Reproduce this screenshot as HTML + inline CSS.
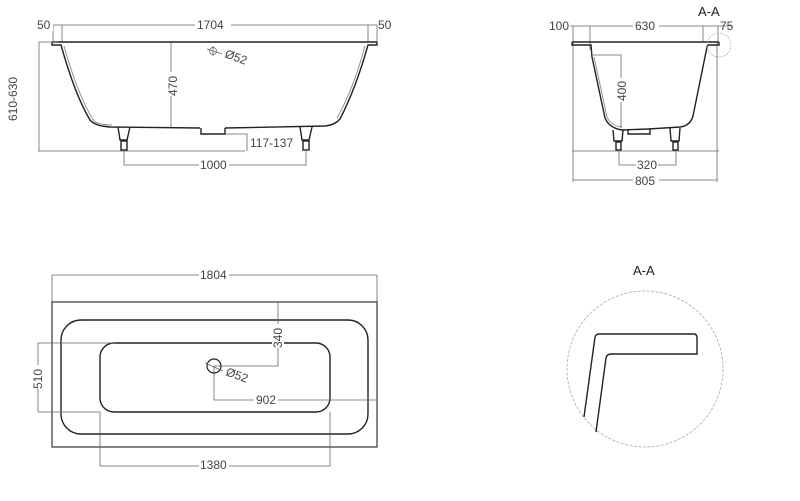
<!DOCTYPE html>
<html><head><meta charset="utf-8"><style>
html,body{margin:0;padding:0;background:#fff;width:800px;height:501px;overflow:hidden}
svg{display:block}
text{font-family:"Liberation Sans",sans-serif;font-size:12px;fill:#444}
.d{stroke:#666;stroke-width:0.8;fill:none}
.t{stroke:#222;stroke-width:1.4;fill:none}
.g{stroke:#888;stroke-width:0.9;fill:none}
</style></head><body>
<svg width="800" height="501" viewBox="0 0 800 501" xmlns="http://www.w3.org/2000/svg">
<!-- FRONT VIEW -->
<path class="d" d="M50 25H377M53 25V42M62 25V42M368 25V42M377 25V42"/>
<rect x="39" y="17" width="14" height="14" fill="#fff"/>
<text x="37" y="29">50</text>
<rect x="195" y="17" width="36" height="14" fill="#fff"/>
<text x="197" y="29">1704</text>
<text x="378" y="29">50</text>
<path class="t" d="M52 42H377"/>
<path class="t" d="M52 42V45H61Q75 95 90 120Q95 126 110 127L200 128M225 128L325 126Q335 125 340 119Q356 88 368 45H377V42"/>
<path class="g" d="M64 46Q78 96 94 121Q100 125 112 125"/>
<path class="g" d="M365 46Q353 90 337 118"/>
<path class="t" d="M201 128V134H225V128"/>
<path class="d" d="M39 42V151M39 42H58M38 151H245"/>
<rect x="7" y="70" width="14" height="50" fill="#fff"/>
<text transform="translate(17,121) rotate(-90)">610-630</text>
<path class="d" d="M171 42V127"/>
<rect x="166" y="72" width="12" height="24" fill="#fff"/>
<text transform="translate(177,96) rotate(-90)">470</text>
<circle cx="213" cy="51" r="3.5" class="d"/><path class="d" d="M207 49L222 54M213 46V56"/>
<text transform="translate(224,57) rotate(20)">Ø52</text>
<path class="t" d="M118 127L120 140H127L130 127"/><rect x="121" y="141" width="6" height="9" class="t" stroke-width="1"/>
<path class="t" d="M300 127L302 140H309L312 127"/><rect x="303" y="141" width="6" height="9" class="t" stroke-width="1"/>
<path class="d" d="M225 134H247V151M124 150V165H306V150"/>
<text x="250" y="147">117-137</text>
<rect x="199" y="158" width="30" height="14" fill="#fff"/>
<text x="200" y="169">1000</text>
<!-- SIDE VIEW -->
<path class="d" d="M570 26H731M573 26V42M590 26V50M703 26V42M718 26V42M573 42V182M717 42V182M572 151H719M573 180H717"/>
<rect x="549" y="18" width="20" height="14" fill="#fff"/>
<text x="549" y="30">100</text>
<rect x="633" y="18" width="26" height="14" fill="#fff"/>
<text x="635" y="30">630</text>
<text x="720" y="30">75</text>
<text x="698" y="16" style="font-size:13px;fill:#222">A-A</text>
<path class="t" d="M572 42H719"/>
<path class="t" d="M572 42V45H591L592 57L605 118Q609 128 622 130L648 129L680 127Q690 126 693 116L707 47L708 45H719V42"/>
<path class="g" d="M594 57L607 117Q611 126 622 127"/>
<path class="t" d="M628 130V134H650V129"/>
<circle cx="719" cy="45" r="12" fill="none" stroke="#aaa" stroke-width="0.7" stroke-dasharray="2,1"/>
<path class="d" d="M593 55H621V128"/>
<rect x="615" y="78" width="12" height="24" fill="#fff"/>
<text transform="translate(626,101) rotate(-90)">400</text>
<path class="t" d="M613 130L614 141H622L623 130"/><rect x="616" y="142" width="5" height="8" class="t" stroke-width="1"/>
<path class="t" d="M670 128L671 141H679L680 128"/><rect x="673" y="142" width="5" height="8" class="t" stroke-width="1"/>
<path class="d" d="M619 150V165H676V150"/>
<rect x="636" y="158" width="22" height="14" fill="#fff"/>
<text x="637" y="169">320</text>
<rect x="633" y="173" width="26" height="14" fill="#fff"/>
<text x="635" y="185">805</text>
<!-- PLAN VIEW -->
<path class="d" d="M52 275H377M52 275V302M377 275V302"/>
<rect x="199" y="268" width="30" height="14" fill="#fff"/>
<text x="200" y="279">1804</text>
<rect x="52" y="302" width="325" height="145" fill="none" stroke="#333" stroke-width="1.2"/>
<rect x="61" y="320" width="307" height="114" rx="20" class="t"/>
<rect x="100" y="343" width="230" height="69" rx="14" class="t"/>
<path class="d" d="M38 343H115M38 412H100M38 343V412"/>
<rect x="32" y="365" width="12" height="24" fill="#fff"/>
<text transform="translate(42,389) rotate(-90)">510</text>
<path class="d" d="M278 302V366H214M214 366V400H377M100 412V466H330V412"/>
<rect x="272" y="324" width="12" height="24" fill="#fff"/>
<text transform="translate(282,348) rotate(-90)">340</text>
<circle cx="214" cy="366" r="7" fill="none" stroke="#222" stroke-width="1.2"/>
<path class="d" d="M205 363L223 371"/>
<text transform="translate(225,375) rotate(20)">Ø52</text>
<rect x="254" y="393" width="24" height="14" fill="#fff"/>
<text x="256" y="404">902</text>
<rect x="199" y="457" width="30" height="14" fill="#fff"/>
<text x="200" y="469">1380</text>
<!-- DETAIL -->
<text x="633" y="275" style="font-size:13px;fill:#222">A-A</text>
<circle cx="645" cy="369" r="78" fill="none" stroke="#aaa" stroke-width="0.8" stroke-dasharray="3,1.5"/>
<path class="t" stroke-width="1.2" d="M584 417L595 337Q596 334 599 334H694Q697 334 697 338V354H611Q607 354 606 358L596 432"/>
</svg>
</body></html>
